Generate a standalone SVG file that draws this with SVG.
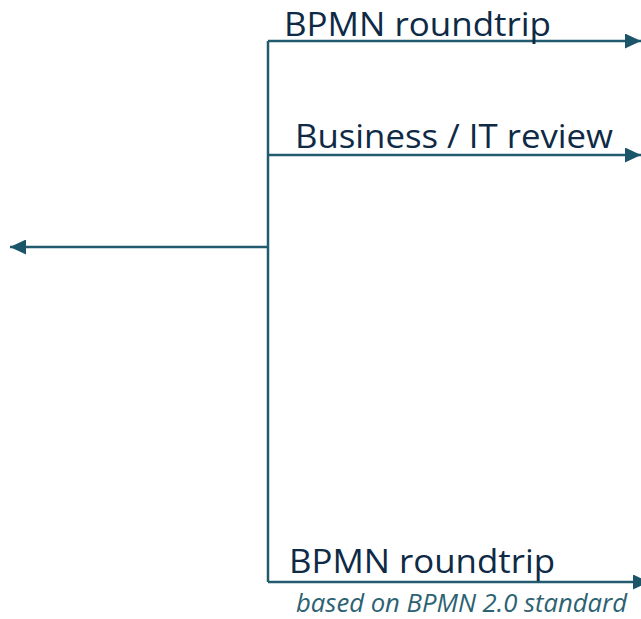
<svg xmlns="http://www.w3.org/2000/svg" width="641" height="619" viewBox="0 0 641 619">
  <defs>
    <marker id="arr" viewBox="0 0 16 15" refX="16" refY="7.5" markerWidth="16" markerHeight="15" markerUnits="userSpaceOnUse" orient="auto">
      <path d="M0,0 L16,7.5 L0,15 Z" fill="#1c5569"/>
    </marker>
    <style>
      .conn { fill: none; stroke: #215b6d; stroke-width: 2.5; }
      .lbl { font-family: "Open Sans", "Noto Sans", sans-serif; fill: #0e2a45; font-size: 32px; }
      .sub { font-family: "Open Sans", "Noto Sans", sans-serif; fill: #2c6272; font-size: 25px; font-style: italic; }
    </style>
  </defs>
  <rect width="641" height="619" fill="#ffffff"/>
  <g id="connectors">
    <path class="conn" d="M268,41 V582"/>
    <path class="conn" d="M268,41 H641" marker-end="url(#arr)"/>
    <path class="conn" d="M268,155 H641" marker-end="url(#arr)"/>
    <path class="conn" d="M268,582 H649" marker-end="url(#arr)"/>
    <path class="conn" d="M268,247 H10" marker-end="url(#arr)"/>
  </g>
  <g id="label-roundtrip-top">
    <text class="lbl" x="284" y="36" textLength="267" lengthAdjust="spacingAndGlyphs">BPMN roundtrip</text>
  </g>
  <g id="label-review">
    <text class="lbl" x="295" y="148" textLength="318" lengthAdjust="spacingAndGlyphs">Business / IT review</text>
  </g>
  <g id="label-roundtrip-bottom">
    <text class="lbl" x="289" y="573" textLength="266" lengthAdjust="spacingAndGlyphs">BPMN roundtrip</text>
    <text class="sub" x="296" y="612" textLength="331" lengthAdjust="spacingAndGlyphs">based on BPMN 2.0 standard</text>
  </g>
</svg>
